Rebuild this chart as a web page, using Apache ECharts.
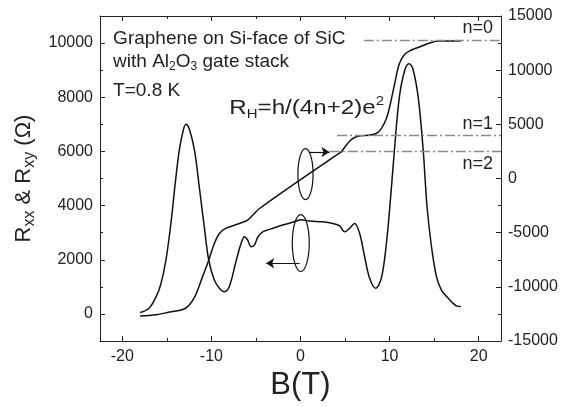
<!DOCTYPE html>
<html><head><meta charset="utf-8">
<script src="https://cdn.jsdelivr.net/npm/echarts@6/dist/echarts.min.js"></script>
<style>html,body{margin:0;padding:0;background:#fff}#c{width:570px;height:407px}</style>
</head><body><div id="c"></div>
<script>
// ---- data ----
const rxxB = [-18.0,-17.0,-16.2,-15.7,-15.1,-14.5,-14.06,-13.6,-13.16,-12.86,-12.5,-11.9,-11.36,-10.8,-10.3,-9.67,-9.1,-8.55,-8.0,-7.2,-6.67,-6.3,-5.93,-5.55,-5.17,-4.8,-4.24,-3.1,-2.0,-0.5,0.0,1.0,2.5,3.63,4.4,4.95,5.5,6.07,6.64,7.2,7.76,8.44,9.07,9.64,10.12,10.57,11.1,11.7,12.18,12.6,13.2,13.77,14.2,14.7,15.26,15.8,16.4,16.95,17.5,18.0];
const rxxV = [50,210,640,1070,1990,3465,4820,6045,6780,7000,6845,6045,4690,3220,1990,1250,950,820,1000,1990,2600,2850,2730,2480,2540,2830,3030,3160,3280,3420,3480,3430,3400,3340,3250,3030,3160,3340,2970,2110,1320,950,1320,2600,4330,6170,8020,9000,9240,9060,8020,6045,3955,2480,1375,885,640,450,295,270];
const rxyB = [-18.0,-16.2,-14.7,-13.2,-12.5,-11.77,-11.0,-10.3,-9.67,-9.1,-8.4,-6.86,-5.93,-5.2,-4.6,0.0,4.4,4.57,5.14,5.7,6.45,7.57,8.5,9.07,9.64,10.09,10.57,11.1,11.7,12.4,13.35,14.5,15.45,17.1,18.0];
const rxyV = [-12700,-12580,-12330,-12090,-11690,-10765,-9080,-7540,-6000,-5070,-4610,-4150,-3850,-3250,-2770,-100,2360,2455,3070,3595,3900,3995,4150,4610,5535,6920,8760,10610,11470,11840,12140,12510,12700,12700,12700];
const plateauLevels = [12750, 4000, 2550];
const plateauStart = [7.1, 4.1, 3.3];
const plateauNames = ['n=0', 'n=1', 'n=2'];
const xMajor = [-20,-10,0,10,20];
const xMinor = [-15,-5,5,15];
const yLeftMajor = [0,2000,4000,6000,8000,10000];
const yLeftMinor = [1000,3000,5000,7000,9000];
const yRightMajor = [-15000,-10000,-5000,0,5000,10000,15000];
const yRightMinor = [-12500,-7500,-2500,2500,7500,12500];

const FONT = '"Liberation Sans", Arial, Helvetica, sans-serif';
const LC = '#222';
const lineStyle = {color: LC, width: 1};
const plain = v => String(v);

function xAxisDef(pos, ticks, len, withLabels, withLine) {
  return {
    type: 'value', position: pos, min: -22.5, max: 22.5, gridIndex: 0,
    axisLine: {show: withLine, onZero: false, lineStyle},
    axisTick: {show: true, inside: true, length: len, customValues: ticks, lineStyle},
    axisLabel: withLabels ? {show: true, customValues: ticks, formatter: plain, fontSize: 16, color: LC, margin: 8, fontFamily: FONT, showMinLabel: true, showMaxLabel: true} : {show: false},
    splitLine: {show: false}
  };
}
function yAxisDef(pos, min, max, ticks, len, withLabels, withLine) {
  return {
    type: 'value', position: pos, min, max, gridIndex: 0,
    axisLine: {show: withLine, onZero: false, lineStyle},
    axisTick: {show: true, inside: true, length: len, customValues: ticks, lineStyle},
    axisLabel: withLabels ? {show: true, customValues: ticks, formatter: plain, fontSize: 16, color: LC, margin: 7, fontFamily: FONT, showMinLabel: true, showMaxLabel: true} : {show: false},
    splitLine: {show: false}
  };
}

const xBottom = xAxisDef('bottom', xMajor, 5, true, true);
xBottom.name = 'B(T)';
xBottom.nameLocation = 'middle';
xBottom.nameGap = 28;
xBottom.nameTextStyle = {fontSize: 31, fontFamily: FONT, color: LC};

const yLeft = yAxisDef('left', -1000, 11000, yLeftMajor, 5, true, true);
yLeft.name = '{a|R}{s|xx}{a| & R}{s|xy}{a| (Ω)}';
yLeft.nameLocation = 'middle';
yLeft.nameGap = 55;
yLeft.nameTextStyle = {
  fontFamily: FONT, color: LC,
  rich: {
    a: {fontSize: 22, lineHeight: 28, fontFamily: FONT, color: LC},
    s: {fontSize: 16, lineHeight: 13, verticalAlign: 'bottom', fontFamily: FONT, color: LC}
  }
};

const rxxData = rxxB.map((b, i) => [b, rxxV[i]]);
const rxyData = rxyB.map((b, i) => [b, rxyV[i]]);

const dashStyle = {color: '#8a8a8a', width: 1.3, type: [10, 3, 2, 3]};

const option = {
  animation: false,
  backgroundColor: '#fff',
  grid: {left: 100, right: 69, top: 16, bottom: 66, containLabel: false, outerBoundsMode: 'none'},
  xAxis: [
    xBottom,
    xAxisDef('bottom', xMinor, 3, false, false),
    xAxisDef('top', xMajor, 5, false, true),
    xAxisDef('top', xMinor, 3, false, false)
  ],
  yAxis: [
    yLeft,
    yAxisDef('right', -15000, 15000, yRightMajor, 5, true, true),
    yAxisDef('left', -1000, 11000, yLeftMinor, 3, false, false),
    yAxisDef('right', -15000, 15000, yRightMinor, 3, false, false)
  ],
  series: [
    {
      name: 'Rxx', type: 'line', xAxisIndex: 0, yAxisIndex: 0, data: rxxData,
      smooth: 0.35, showSymbol: false, silent: true,
      lineStyle: {color: '#111', width: 1.5},
      markLine: {
        silent: true, symbol: ['none', 'arrow'], symbolSize: 8,
        label: {show: false},
        lineStyle: {color: '#111', width: 1.2, type: 'solid'},
        data: [
          [{coord: [0.95, 5980]}, {coord: [3.25, 5980]}],
          [{coord: [-0.1, 1870]}, {coord: [-3.85, 1870]}]
        ]
      }
    },
    {
      name: 'Rxy', type: 'line', xAxisIndex: 0, yAxisIndex: 1, data: rxyData,
      smooth: 0.35, showSymbol: false, silent: true,
      lineStyle: {color: '#111', width: 1.5},
      markLine: {
        silent: true, symbol: ['none', 'none'],
        label: {show: false},
        lineStyle: dashStyle,
        data: plateauLevels.map((v, i) => [{coord: [plateauStart[i], v]}, {coord: [22.5, v]}])
      }
    }
  ]
};

const chart = echarts.init(document.getElementById('c'));
chart.setOption(option);

function P(b, r) { return chart.convertToPixel({xAxisIndex: 0, yAxisIndex: 0}, [b, r]); }
function ellipse(b, r, hb, hr) {
  const c = P(b, r), e = P(b + hb, r + hr);
  return {type: 'ellipse', silent: true, z: 100,
    shape: {cx: c[0], cy: c[1], rx: Math.abs(e[0] - c[0]), ry: Math.abs(e[1] - c[1])},
    style: {fill: 'none', stroke: '#111', lineWidth: 1.2}};
}
function text(b, r, str, opts, extra) {
  const p = P(b, r);
  return Object.assign({type: 'text', silent: true, z: 100, x: p[0], y: p[1],
    style: Object.assign({text: str, fill: LC, fontSize: 19, fontFamily: FONT, align: 'left', verticalAlign: 'middle'}, opts || {})}, extra || {});
}
const labelAnchors = [[21.6, 10560], [21.6, 7000], [21.6, 5529]];
const graphics = [
  ellipse(0.56, 5160, 0.85, 940),
  ellipse(0.03, 2617, 0.95, 1050),
  text(-21.03, 10160, 'Graphene on Si-face of SiC', {fontSize: 19}),
  text(-21.03, 9300, '{a|with Al}{s|2}{a|O}{s|3}{a| gate stack}', {
    rich: {
      a: {fontSize: 19, lineHeight: 22, fontFamily: FONT, fill: LC},
      s: {fontSize: 12, lineHeight: 10, verticalAlign: 'bottom', fontFamily: FONT, fill: LC}
    }
  }),
  text(-21.03, 8231, 'T=0.8 K', {fontSize: 19}),
  text(-7.99, 7600, '{a|R}{s|H}{a|=h/(4n+2)e}{p|2}', {
    fontSize: 21,
    rich: {
      a: {fontSize: 21, lineHeight: 26, fontFamily: FONT, fill: LC},
      s: {fontSize: 13, lineHeight: 8, verticalAlign: 'bottom', fontFamily: FONT, fill: LC},
      p: {fontSize: 13, lineHeight: 16, verticalAlign: 'top', fontFamily: FONT, fill: LC}
    }
  }, {scaleX: 1.15})
].concat(plateauNames.map((n, i) => text(labelAnchors[i][0], labelAnchors[i][1], n, {fontSize: 18, align: 'right'})));

chart.setOption({graphic: graphics});
</script>
</body></html>
